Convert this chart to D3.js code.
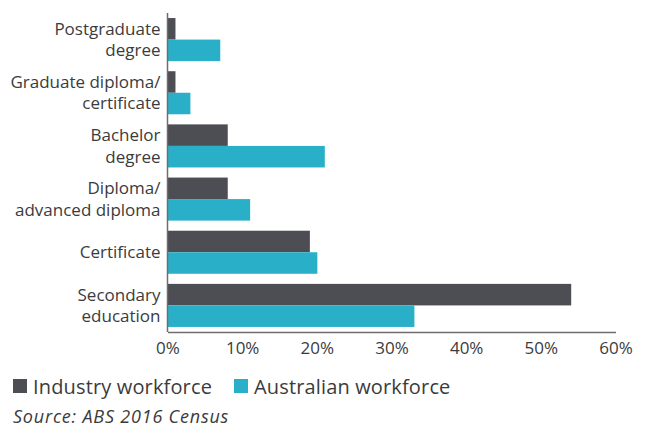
<!DOCTYPE html>
<html>
<head>
<meta charset="utf-8">
<script src="https://cdn.jsdelivr.net/npm/d3@7"></script>
<style>
  body { margin: 0; background: #fff; }
  text { font-family: "Open Sans", sans-serif; fill: #3b3b3d; }
</style>
</head>
<body>
<div id="chart"></div>
<script>
// data
var categories = [
    ["Postgraduate", "degree"],
    ["Graduate diploma/", "certificate"],
    ["Bachelor", "degree"],
    ["Diploma/", "advanced diploma"],
    ["Certificate"],
    ["Secondary", "education"]
];
var seriesNames = ["Industry workforce", "Australian workforce"];
var industry = [1, 1, 8, 8, 19, 54];
var australian = [7, 3, 21, 11, 20, 33];
var xTicks = [0, 10, 20, 30, 40, 50, 60];

var colors = ["#4d4e53", "#29b0c8"];

// svg & chart area
var svgWidth = 646;
var svgHeight = 428;
var margin = {top: 13, right: 30, bottom: 96, left: 167.5};

var chartWidth = 615.5 - margin.left;
var chartHeight = svgHeight - margin.top - margin.bottom;

var svg = d3.select("#chart")
    .append("svg")
    .attr("width", svgWidth)
    .attr("height", svgHeight);

var chartGroup = svg.append("g")
    .attr("transform", `translate(${margin.left},${margin.top})`);

var rows = categories.map(function(c, i) {
    return {label: c, values: [industry[i], australian[i]]};
});

var yscale = d3.scaleBand()
    .domain(d3.range(categories.length))
    .range([0, chartHeight])
    .paddingInner(0.19)
    .paddingOuter(0.095);

var ysub = d3.scaleBand()
    .domain([0, 1])
    .range([0, yscale.bandwidth()]);

var xscale = d3.scaleLinear().domain([0, 60]).range([0, chartWidth]);

// bars
var groups = chartGroup.selectAll(".grp")
    .data(rows)
    .enter()
    .append("g")
    .attr("transform", (d, i) => `translate(0,${yscale(i)})`);

groups.selectAll("rect")
    .data(d => d.values)
    .enter()
    .append("rect")
    .attr("x", 0.5)
    .attr("y", (d, j) => ysub(j))
    .attr("height", ysub.bandwidth())
    .attr("width", d => xscale(d))
    .attr("fill", (d, j) => colors[j]);

// category labels
groups.each(function(d) {
    var n = d.label.length;
    var cy = yscale.bandwidth() / 2;
    var t = d3.select(this).append("text")
        .attr("text-anchor", "end")
        .attr("font-size", "17px");
    d.label.forEach(function(line, k) {
        t.append("tspan")
            .attr("x", -7)
            .attr("y", cy + 6 + (k - (n - 1) / 2) * 21.5)
            .text(line);
    });
});

// axes
var b_axis = d3.axisBottom(xscale)
    .tickValues(xTicks)
    .tickSize(0)
    .tickPadding(10)
    .tickFormat(d => d + "%");

var xg = chartGroup.append("g")
    .attr("transform", `translate(0,${chartHeight})`)
    .call(b_axis);
xg.select(".domain").attr("stroke", "#6e6e70").attr("stroke-width", 1.5);
xg.selectAll("text")
    .attr("font-size", "17px")
    .attr("font-family", "Open Sans, sans-serif")
    .attr("fill", "#3b3b3d");

chartGroup.append("line")
    .attr("x1", 0).attr("x2", 0)
    .attr("y1", 0).attr("y2", chartHeight)
    .attr("stroke", "#6e6e70")
    .attr("stroke-width", 1.5);

// legend
var legend = svg.append("g").attr("transform", "translate(13,379)");
var legendX = [0, 221];
seriesNames.forEach(function(name, i) {
    var g = legend.append("g").attr("transform", `translate(${legendX[i]},0)`);
    g.append("rect")
        .attr("width", 14).attr("height", 14)
        .attr("fill", colors[i]);
    g.append("text")
        .attr("x", 20).attr("y", 14.5)
        .attr("font-size", "20px")
        .attr("letter-spacing", "0.15px")
        .attr("fill", "#4d4e53")
        .text(name);
});

// source
svg.append("text")
    .attr("x", 13).attr("y", 423)
    .attr("font-size", "18px")
    .attr("font-style", "italic")
    .attr("letter-spacing", "0.8px")
    .attr("fill", "#555")
    .text("Source: ABS 2016 Census");
</script>
</body>
</html>
